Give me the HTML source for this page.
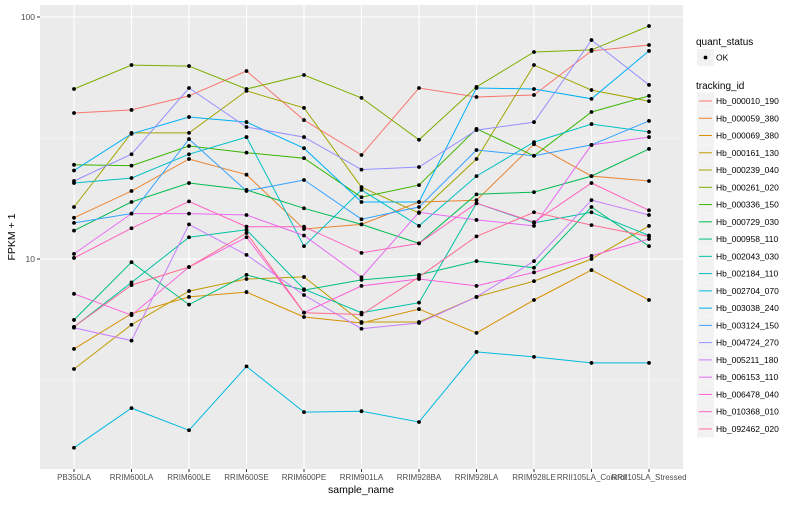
<!DOCTYPE html>
<html><head><meta charset="utf-8"><style>
body{margin:0;background:#fff;}
svg text{font-family:"Liberation Sans",sans-serif;}
</style></head><body>
<svg id="chart" width="800" height="500" xmlns="http://www.w3.org/2000/svg">
<rect x="40" y="5" width="643" height="464" fill="#EBEBEB"/>
<g id="grid"></g><g id="lines"></g><g id="pts"></g><g id="axes"></g><g id="legend"></g>
</svg>
<script>
const categories=["PB350LA","RRIM600LA","RRIM600LE","RRIM600SE","RRIM600PE","RRIM901LA","RRIM928BA","RRIM928LA","RRIM928LE","RRII105LA_Control","RRII105LA_Stressed"];
const seriesNames=["Hb_000010_190","Hb_000059_380","Hb_000069_380","Hb_000161_130","Hb_000239_040","Hb_000261_020","Hb_000336_150","Hb_000729_030","Hb_000958_110","Hb_002043_030","Hb_002184_110","Hb_002704_070","Hb_003038_240","Hb_003124_150","Hb_004724_270","Hb_005211_180","Hb_006153_110","Hb_006478_040","Hb_010368_010","Hb_092462_020"];
const colors=["#F8766D","#EA8331","#D89000","#C09B00","#A3A500","#7CAE00","#39B600","#00BB4E","#00BF7D","#00C1A3","#00BFC4","#00BAE0","#00B0F6","#35A2FF","#9590FF","#C77CFF","#E76BF3","#FA62DB","#FF62BC","#FF6C91"];
const s01=[40.1,41.3,47.2,59.8,37.5,26.9,50.9,46.7,47.6,72.4,76.6];
const s02=[14.8,19.1,25.9,22.3,13.3,13.9,17.2,17.5,29.8,22.0,21.0];
const s03=[4.25,5.94,6.97,7.3,5.76,5.44,6.21,4.95,6.77,9.0,6.77];
const s04=[3.51,5.35,7.37,8.27,8.43,5.49,5.49,6.97,8.1,10.0,13.7];
const s05=[16.4,33.2,33.2,49.5,42.1,19.8,15.5,25.9,63.3,49.9,44.9];
const s06=[50.4,63.3,62.7,50.4,57.6,46.3,31.1,51.4,71.7,73.1,91.8];
const s07=[24.5,24.3,29.3,27.5,26.1,18.0,20.2,34.5,26.7,40.5,47.2];
const s08=[13.1,17.2,20.6,19.3,16.2,13.9,11.6,18.5,18.9,22.0,28.5];
const s09=[5.6,9.7,6.48,8.6,7.44,8.2,8.6,9.8,9.2,16.4,11.3];
const s10=[5.24,8.0,12.3,13.2,7.5,6.0,6.6,17.0,14.1,15.6,12.5];
const s11=[20.6,21.6,27.1,31.9,11.3,19.3,13.7,22.0,30.4,36.1,33.5];
const s12=[1.66,2.42,1.96,3.6,2.33,2.35,2.12,4.13,3.94,3.72,3.72];
const s13=[23.2,32.9,38.6,36.8,28.7,17.2,17.2,50.9,50.4,45.9,72.4];
const s14=[14.1,15.4,31.3,19.1,21.2,14.6,16.4,28.2,26.7,29.6,37.2];
const s15=[21.0,27.1,50.9,35.1,31.9,23.4,24.0,34.1,36.8,80.3,52.4];
const s16=[5.2,4.6,13.9,10.4,7.1,5.15,5.44,6.97,9.8,17.5,15.2];
const s17=[10.5,15.4,15.4,15.2,12.5,8.4,15.6,14.5,13.7,29.6,31.9];
const s18=[7.18,5.86,9.27,12.3,6.0,7.74,8.27,7.74,8.8,10.3,12.1];
const s19=[10.1,13.4,17.3,13.6,13.6,10.6,11.6,17.0,14.2,20.6,15.9];
const s20=[5.24,7.8,9.27,12.8,6.0,5.9,8.43,12.4,15.6,13.8,12.4];
const allSeries=[s01,s02,s03,s04,s05,s06,s07,s08,s09,s10,s11,s12,s13,s14,s15,s16,s17,s18,s19,s20];
const yTicks=[10,100];
const yMinor=[3.1623,31.623];

const NS="http://www.w3.org/2000/svg";
function xS(i){return 74+i*57.5;}
function yS(v){return 17+242*(2-Math.log10(v));}
function mk(tag,attrs,parent){const e=document.createElementNS(NS,tag);for(const k in attrs)e.setAttribute(k,attrs[k]);parent.appendChild(e);return e;}
const grid=document.getElementById('grid'),lines=document.getElementById('lines'),pts=document.getElementById('pts'),axes=document.getElementById('axes'),leg=document.getElementById('legend');
yMinor.forEach(v=>{const l=mk('line',{x1:40,x2:683,y1:yS(v),y2:yS(v),stroke:'#F5F5F5','stroke-width':0.6},grid);

});
yTicks.forEach(v=>{const l=mk('line',{x1:40,x2:683,y1:yS(v),y2:yS(v),stroke:'#fff','stroke-width':1.1},grid);


const t=mk('line',{x1:37,x2:40,y1:yS(v),y2:yS(v),stroke:'#333','stroke-width':1},axes);


const tx=mk('text',{x:35,y:yS(v)+3,'text-anchor':'end','font-size':8.5,fill:'#4D4D4D'},axes);tx.textContent=String(v);

});
categories.forEach((c,i)=>{const l=mk('line',{x1:xS(i),x2:xS(i),y1:5,y2:469,stroke:'#fff','stroke-width':1.1},grid);


const t=mk('line',{x1:xS(i),x2:xS(i),y1:469,y2:472,stroke:'#333','stroke-width':1},axes);


const tx=mk('text',{x:xS(i),y:480,'text-anchor':'middle','font-size':8,fill:'#4D4D4D'},axes);tx.textContent=c;

});
allSeries.forEach((s,k)=>{const d=s.map((v,i)=>(i?'L':'M')+xS(i).toFixed(1)+','+yS(v).toFixed(1)).join('');
const p=mk('path',{d:d,fill:'none',stroke:colors[k],'stroke-width':1},lines);


s.forEach((v,i)=>{const c=mk('circle',{cx:xS(i),cy:yS(v),r:1.9,fill:'#000'},pts);

});});
let t=mk('text',{x:361,y:493,'text-anchor':'middle','font-size':10.5,fill:'#000'},axes);t.textContent='sample_name';


t=mk('text',{x:0,y:0,'text-anchor':'middle','font-size':10.5,fill:'#000',transform:'translate(15,237) rotate(-90)'},axes);t.textContent='FPKM + 1';


t=mk('text',{x:696,y:45,'font-size':10,fill:'#000'},leg);t.textContent='quant_status';


let r=mk('rect',{x:697,y:49,width:17,height:17,fill:'#F2F2F2'},leg);


let c=mk('circle',{cx:705.5,cy:57.5,r:1.9,fill:'#000'},leg);


t=mk('text',{x:716,y:60.5,'font-size':8.5,fill:'#000'},leg);t.textContent='OK';


t=mk('text',{x:696,y:89,'font-size':10,fill:'#000'},leg);t.textContent='tracking_id';


seriesNames.forEach((n,k)=>{const y=101+k*17.26;
const g=mk('g',{},leg);


mk('rect',{x:697,y:y-8.5,width:17,height:17,fill:'#F2F2F2'},g);
mk('line',{x1:699,x2:712,y1:y,y2:y,stroke:colors[k],'stroke-width':1},g);
const tx=mk('text',{x:716,y:y+3,'font-size':8.5,fill:'#000'},g);tx.textContent=n;});
</script>
</body></html>
